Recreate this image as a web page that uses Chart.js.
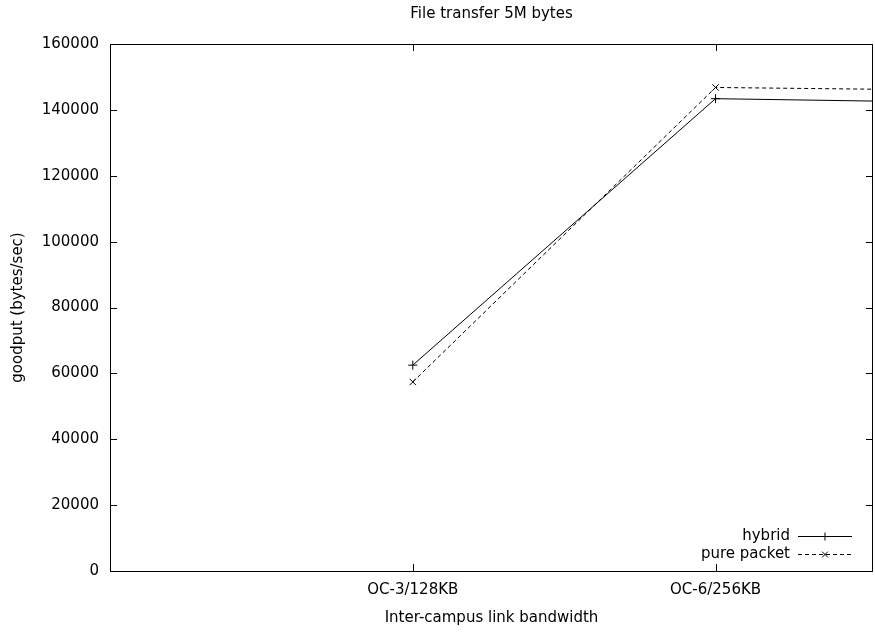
<!DOCTYPE html>
<html>
<head>
<meta charset="utf-8">
<script src="https://cdn.jsdelivr.net/npm/chart.js@4/dist/chart.umd.min.js"></script>
<style>
  html, body { margin: 0; padding: 0; background: #fff; }
  #wrap { width: 875px; height: 635px; position: relative; }
</style>
</head>
<body>
<div id="wrap"><canvas id="c"></canvas></div>
<script>
// categories along x (third one lies past the right border and is clipped)
var bwLabels = ['OC-3/128KB', 'OC-6/256KB', 'OC-12/512KB'];
var bwPos = [1, 2, 3];
var hybrid = [62500, 143400, 142000];
var purePacket = [57400, 146800, 145800];
var yTicks = [0, 20000, 40000, 60000, 80000, 100000, 120000, 140000, 160000];

var FONT = 'DejaVu Sans, Liberation Sans, Arial, sans-serif';

function pts(vals) {
  return vals.map(function(v, i) { return { x: bwPos[i], y: v }; });
}

// gnuplot-like frame: border box, inward ticks, title and key inside plot
var gnuFrame = {
  id: 'gnuFrame',
  afterDraw: function(chart) {
    var ctx = chart.ctx;
    var a = chart.chartArea;
    var xs = chart.scales.x, ys = chart.scales.y;
    ctx.save();
    ctx.strokeStyle = '#000';
    ctx.lineWidth = 1;
    ctx.strokeRect(Math.round(a.left) + 0.5, Math.round(a.top) + 0.5,
      Math.round(a.right - a.left) - 1, Math.round(a.bottom - a.top));
    ctx.beginPath();
    yTicks.forEach(function(v) {
      var y = Math.round(ys.getPixelForValue(v)) + 0.5;
      ctx.moveTo(a.left, y); ctx.lineTo(a.left + 7, y);
      ctx.moveTo(a.right, y); ctx.lineTo(a.right - 7, y);
    });
    [1, 2].forEach(function(v) {
      var x = Math.round(xs.getPixelForValue(v)) + 0.5;
      ctx.moveTo(x, a.bottom); ctx.lineTo(x, a.bottom - 7);
      ctx.moveTo(x, a.top); ctx.lineTo(x, a.top + 7);
    });
    ctx.stroke();

    // title
    ctx.fillStyle = '#000';
    ctx.font = '15px ' + FONT;
    ctx.textAlign = 'center';
    ctx.textBaseline = 'middle';
    ctx.fillText('File transfer 5M bytes', (a.left + a.right) / 2, 14);

    // key
    var keys = [
      { label: 'hybrid', dash: [], style: 'cross', y: 536 },
      { label: 'pure packet', dash: [4, 3], style: 'crossRot', y: 554 }
    ];
    keys.forEach(function(k) {
      ctx.textAlign = 'right';
      ctx.fillText(k.label, 790, k.y);
      ctx.setLineDash(k.dash);
      ctx.beginPath();
      ctx.moveTo(798, k.y + 0.5); ctx.lineTo(852, k.y + 0.5);
      ctx.stroke();
      ctx.setLineDash([]);
      Chart.helpers.drawPoint(ctx, { pointStyle: k.style, radius: 4, borderWidth: 1 }, 825, k.y + 0.5);
    });
    ctx.restore();
  }
};

new Chart(document.getElementById('c'), {
  type: 'line',
  data: {
    datasets: [
      {
        label: 'hybrid',
        data: pts(hybrid),
        borderColor: '#000',
        backgroundColor: '#000',
        borderWidth: 1,
        pointStyle: 'cross',
        pointRadius: 4.5,
        pointBorderWidth: 1,
        tension: 0
      },
      {
        label: 'pure packet',
        data: pts(purePacket),
        borderColor: '#000',
        backgroundColor: '#000',
        borderWidth: 1,
        borderDash: [4, 3],
        pointStyle: 'crossRot',
        pointRadius: 4.5,
        pointBorderWidth: 1,
        tension: 0
      }
    ]
  },
  options: {
    responsive: true,
    maintainAspectRatio: false,
    animation: false,
    layout: { autoPadding: false, padding: { top: 44, right: 2, left: 0, bottom: 0 } },
    plugins: {
      legend: { display: false },
      tooltip: { enabled: false }
    },
    scales: {
      x: {
        type: 'linear',
        min: 0,
        max: 2.52,
        afterBuildTicks: function(scale) {
          scale.ticks = [{ value: 1 }, { value: 2 }];
        },
        afterFit: function(scale) {
          scale.height = 64;
          scale.paddingLeft = 0;
          scale.paddingRight = 0;
        },
        grid: { display: false, drawTicks: false },
        border: { display: false },
        ticks: {
          padding: 10,
          color: '#000',
          font: { family: FONT, size: 15 },
          maxRotation: 0,
          callback: function(v) { return bwLabels[bwPos.indexOf(v)] || ''; }
        },
        title: {
          display: true,
          text: 'Inter-campus link bandwidth',
          color: '#000',
          font: { family: FONT, size: 15 },
          padding: { top: 0, bottom: 8 }
        }
      },
      y: {
        min: 0,
        max: 160000,
        afterBuildTicks: function(scale) {
          scale.ticks = yTicks.map(function(v) { return { value: v }; });
        },
        afterFit: function(scale) { scale.width = 110; },
        grid: { display: false, drawTicks: false },
        border: { display: false },
        ticks: {
          padding: 11,
          color: '#000',
          font: { family: FONT, size: 15 },
          callback: function(v) { return String(v); }
        },
        title: {
          display: true,
          text: 'goodput (bytes/sec)',
          color: '#000',
          font: { family: FONT, size: 15 },
          padding: { top: 9, bottom: 0 }
        }
      }
    }
  },
  plugins: [gnuFrame]
});
</script>
</body>
</html>
